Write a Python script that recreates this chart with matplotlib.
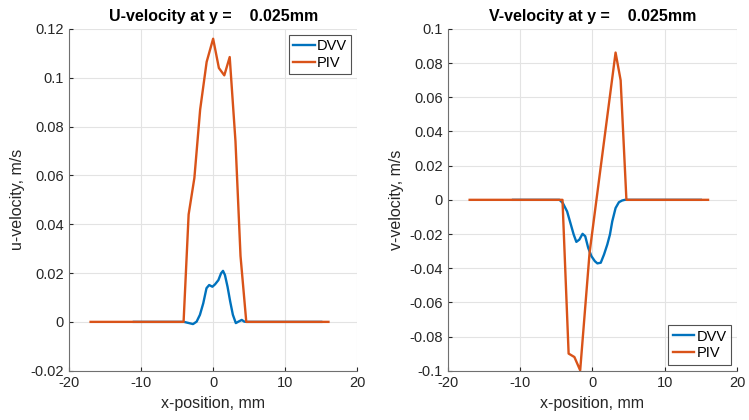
import matplotlib
matplotlib.use('Agg')
import matplotlib.pyplot as plt
from matplotlib.ticker import FuncFormatter

plt.rcParams['font.family'] = ['Liberation Sans', 'DejaVu Sans']

# U-velocity data
u_piv_x = [-17, -4.1, -3.4, -2.6, -1.8, -0.9, 0.0, 0.8, 1.55, 2.3, 3.1, 3.8, 4.6, 16]
u_piv = [0, 0, 0.044, 0.059, 0.087, 0.1065, 0.116, 0.104, 0.101, 0.1085, 0.074, 0.027, 0, 0]

u_dvv_x = [-11, -4.05, -3.34, -2.79, -2.29, -1.83, -1.37, -0.92, -0.55, -0.1, 0.27, 0.73,
           1.1, 1.37, 1.64, 2.0, 2.37, 2.74, 3.15, 3.51, 3.97, 4.33, 4.6, 15]
u_dvv = [0, 0, -0.0005, -0.0009, 0.0001, 0.0029, 0.0076, 0.0138, 0.0151, 0.0144, 0.0154,
         0.0171, 0.0199, 0.0209, 0.0192, 0.0144, 0.0083, 0.0029, -0.0005, 0.0001, 0.0008,
         0.0001, 0, 0]

# V-velocity data
v_piv_x = [-17, -4.15, -3.3, -2.5, -1.7, -0.4, 3.2, 3.9, 4.7, 16]
v_piv = [0, 0, -0.090, -0.092, -0.0998, -0.031, 0.0862, 0.070, 0, 0]

v_dvv_x = [-11, -4.56, -4.1, -3.51, -3.05, -2.6, -2.23, -1.82, -1.37, -1.0, -0.59, -0.14,
           0.33, 0.68, 1.15, 1.6, 2.05, 2.42, 2.74, 3.2, 3.66, 4.1, 4.48, 15]
v_dvv = [0, 0, -0.0019, -0.0068, -0.0136, -0.0203, -0.0246, -0.0233, -0.0199, -0.0213,
         -0.0281, -0.033, -0.0359, -0.0372, -0.0368, -0.032, -0.0262, -0.0203, -0.0126,
         -0.0048, -0.0014, -0.0004, 0, 0]

blue = '#0072BD'
orange = '#D95319'

fig = plt.figure(figsize=(7.49, 4.2), dpi=100)
ax1 = fig.add_axes([0.0921, 0.1174, 0.3849, 0.8136])
ax2 = fig.add_axes([0.5981, 0.1174, 0.3858, 0.8136])

fmt = FuncFormatter(lambda v, p: '%g' % round(v, 4))


def style(ax, ylim, yticks):
    ax.set_xlim(-20, 20)
    ax.set_xticks([-20, -10, 0, 10, 20])
    ax.set_ylim(*ylim)
    ax.set_yticks(yticks)
    ax.yaxis.set_major_formatter(fmt)
    ax.xaxis.set_major_formatter(fmt)
    ax.grid(True, color='#e3e3e3', linewidth=0.8)
    ax.set_axisbelow(True)
    for s in ['top', 'right']:
        ax.spines[s].set_visible(False)
    for s in ['left', 'bottom']:
        ax.spines[s].set_color('#707070')
        ax.spines[s].set_linewidth(0.8)
    ax.tick_params(direction='in', length=3, width=0.8, color='#262626',
                   labelcolor='#262626', labelsize=10.5)
    ax.set_xlabel('x-position, mm', fontsize=11.5, color='#262626', labelpad=5)


def legend(ax, loc):
    leg = ax.legend(loc=loc, fontsize=10.5, frameon=True, fancybox=False,
                    edgecolor='#262626', handlelength=1.5, handletextpad=0.15,
                    borderpad=0.3, labelspacing=0.2, borderaxespad=0.4)
    leg.get_frame().set_linewidth(0.8)


ax1.plot(u_dvv_x, u_dvv, color=blue, lw=1.7, label='DVV')
ax1.plot(u_piv_x, u_piv, color=orange, lw=1.7, label='PIV')
style(ax1, (-0.02, 0.12), [-0.02, 0, 0.02, 0.04, 0.06, 0.08, 0.1, 0.12])
ax1.set_ylabel('u-velocity, m/s', fontsize=11.5, color='#262626')
ax1.set_title('U-velocity at y =    0.025mm', fontsize=11.5, fontweight='bold', pad=6)
legend(ax1, 'upper right')

ax2.plot(v_dvv_x, v_dvv, color=blue, lw=1.7, label='DVV')
ax2.plot(v_piv_x, v_piv, color=orange, lw=1.7, label='PIV')
style(ax2, (-0.1, 0.1), [-0.1, -0.08, -0.06, -0.04, -0.02, 0, 0.02, 0.04, 0.06, 0.08, 0.1])
ax2.set_ylabel('v-velocity, m/s', fontsize=11.5, color='#262626')
ax2.set_title('V-velocity at y =    0.025mm', fontsize=11.5, fontweight='bold', pad=6)
legend(ax2, 'lower right')

fig.savefig('out.png', dpi=100)
